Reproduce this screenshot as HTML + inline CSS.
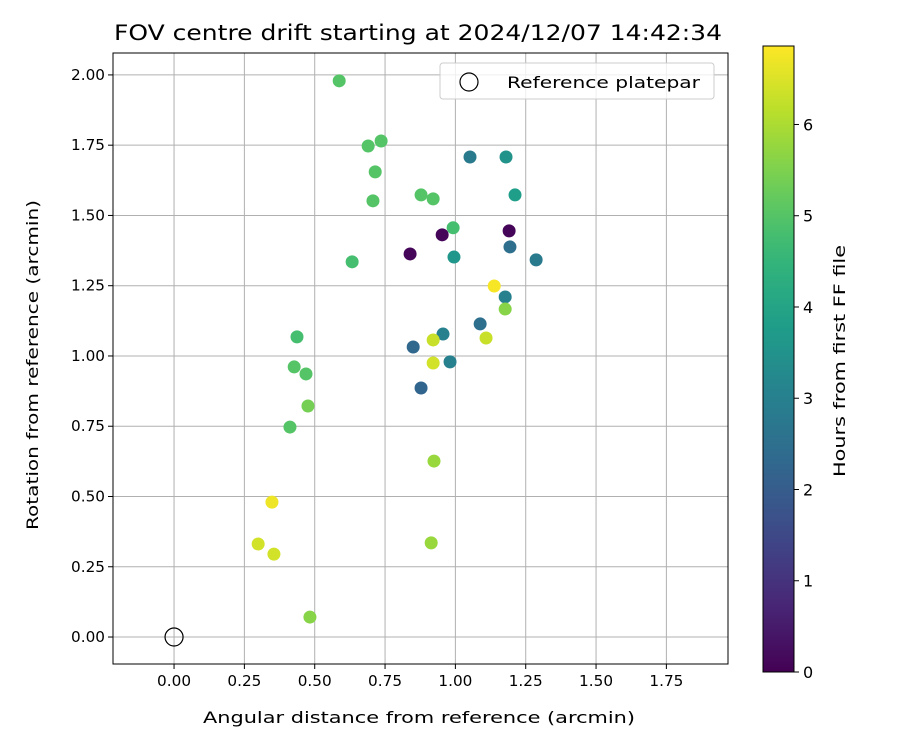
<!DOCTYPE html>
<html><head><meta charset="utf-8"><style>
body{margin:0;background:#fff;}
svg text{font-family:"DejaVu Sans","Liberation Sans",sans-serif;fill:#000;}
</style></head><body>
<svg id="chart" width="900" height="750" xmlns="http://www.w3.org/2000/svg">
<defs><linearGradient id="vg" x1="0" y1="1" x2="0" y2="0"></linearGradient></defs>
<rect width="900" height="750" fill="#fff"/>
<g id="grid"></g>
<g id="pts"></g>
<g id="axes"></g>
</svg>
<script>
const xVals=[0.587,0.690,0.736,0.715,0.707,0.878,0.921,1.052,1.180,1.212,0.953,1.191,0.839,1.194,1.287,0.995,0.992,0.633,1.138,1.177,1.177,1.088,0.956,0.437,0.850,0.921,1.109,0.981,0.427,0.469,0.921,0.878,0.476,0.412,0.924,0.348,0.299,0.355,0.914,0.483];
const yVals=[1.979,1.747,1.765,1.655,1.552,1.573,1.559,1.708,1.708,1.573,1.431,1.445,1.363,1.388,1.342,1.352,1.456,1.335,1.249,1.210,1.167,1.114,1.078,1.068,1.032,1.057,1.064,0.979,0.961,0.936,0.975,0.886,0.822,0.747,0.626,0.480,0.331,0.295,0.335,0.071];
const hours=[5.0,5.0,5.0,5.0,5.0,5.0,5.0,2.8,3.5,3.8,0.1,0.1,0.1,2.5,2.8,3.6,4.8,4.8,6.8,3.0,5.6,2.5,3.0,4.8,2.3,6.3,6.3,3.0,5.0,5.0,6.4,2.2,5.4,5.0,5.8,6.7,6.4,6.4,5.8,5.6];
const xTicks=[0,0.25,0.5,0.75,1.0,1.25,1.5,1.75];
const yTicks=[0,0.25,0.5,0.75,1.0,1.25,1.5,1.75,2.0];
const cTicks=[0,1,2,3,4,5,6];
const L=113,R=728,T=53,B=664;
const xmin=-0.217,xmax=1.969,ymin=-0.096,ymax=2.078,hmax=6.86;
const sx=v=>L+(v-xmin)/(xmax-xmin)*(R-L);
const sy=v=>B-(v-ymin)/(ymax-ymin)*(B-T);
const CT=46,CB=672,CL=763,CR=794;
const sc=v=>CB-v/hmax*(CB-CT);
const stops=[[68,1,84],[72,40,120],[62,74,137],[49,104,142],[38,130,142],[31,158,137],[53,183,121],[110,206,88],[181,222,43],[253,231,37]];
function viridis(t){t=Math.max(0,Math.min(1,t));const p=t*(stops.length-1),i=Math.min(Math.floor(p),stops.length-2),f=p-i;
const c=stops[i].map((a,k)=>Math.round(a+(stops[i+1][k]-a)*f));return `rgb(${c})`;}
const NS="http://www.w3.org/2000/svg";
function mk(tag,attrs,parent,txt){const e=document.createElementNS(NS,tag);for(const k in attrs)e.setAttribute(k,attrs[k]);if(txt!==undefined)e.textContent=txt;parent.appendChild(e);return e;}
const grid=document.getElementById('grid'),pts=document.getElementById('pts'),axes=document.getElementById('axes');
const fmt=v=>v.toFixed(2);
xTicks.forEach(v=>{const x=sx(v);
const g=mk('line',{x1:x,x2:x,y1:T,y2:B,stroke:'#b0b0b0','stroke-width':1},grid);


mk('line',{x1:x,x2:x,y1:B,y2:B+5,stroke:'#000'},axes);
const t=mk('text',{x:x,y:B+22,'text-anchor':'middle','font-size':15,textLength:34,lengthAdjust:'spacingAndGlyphs'},axes,fmt(v));

});
yTicks.forEach(v=>{const y=sy(v);
const g=mk('line',{x1:L,x2:R,y1:y,y2:y,stroke:'#b0b0b0','stroke-width':1},grid);


mk('line',{x1:L-5,x2:L,y1:y,y2:y,stroke:'#000'},axes);
const t=mk('text',{x:L-8,y:y+5,'text-anchor':'end','font-size':15,textLength:34,lengthAdjust:'spacingAndGlyphs'},axes,fmt(v));

});
xVals.forEach((xv,i)=>{const c=mk('circle',{cx:sx(xv),cy:sy(yVals[i]),r:6.5,fill:viridis(hours[i]/hmax)},pts);

});
const ref=mk('circle',{cx:sx(0),cy:sy(0),r:9,fill:'none',stroke:'#000','stroke-width':1.2},pts);


const frame=mk('rect',{x:L,y:T,width:R-L,height:B-T,fill:'none',stroke:'#000','stroke-width':1},axes);


const title=mk('text',{x:114,y:40,'font-size':21,textLength:608,lengthAdjust:'spacingAndGlyphs'},axes,'FOV centre drift starting at 2024/12/07 14:42:34');


const xl=mk('text',{x:203,y:723,'font-size':16,textLength:432,lengthAdjust:'spacingAndGlyphs'},axes,'Angular distance from reference (arcmin)');


const yl=mk('text',{x:0,y:0,'text-anchor':'middle','font-size':16,textLength:330,lengthAdjust:'spacingAndGlyphs',transform:`translate(38,365) rotate(-90)`},axes,'Rotation from reference (arcmin)');


const lg=mk('g',{},axes);


mk('rect',{x:440,y:63,width:274,height:36,rx:3,fill:'#fff','fill-opacity':0.8,stroke:'#ccc'},lg);
mk('circle',{cx:469,cy:82,r:9,fill:'none',stroke:'#000','stroke-width':1.2},lg);
mk('text',{x:507,y:88,'font-size':16,textLength:193,lengthAdjust:'spacingAndGlyphs'},lg,'Reference platepar');
const grad=document.getElementById('vg');
for(let i=0;i<=20;i++){mk('stop',{offset:(i/20),'stop-color':viridis(i/20)},grad);}
const cb=mk('rect',{x:CL,y:CT,width:CR-CL,height:CB-CT,fill:'url(#vg)',stroke:'#000','stroke-width':1},axes);


cTicks.forEach(v=>{const y=sc(v);
mk('line',{x1:CR,x2:CR+5,y1:y,y2:y,stroke:'#000'},axes);
const t=mk('text',{x:CR+9,y:y+6,'font-size':16},axes,String(v));

});
const cl=mk('text',{x:0,y:0,'text-anchor':'middle','font-size':16,textLength:232,lengthAdjust:'spacingAndGlyphs',transform:`translate(845,361) rotate(-90)`},axes,'Hours from first FF file');


</script>
</body></html>
